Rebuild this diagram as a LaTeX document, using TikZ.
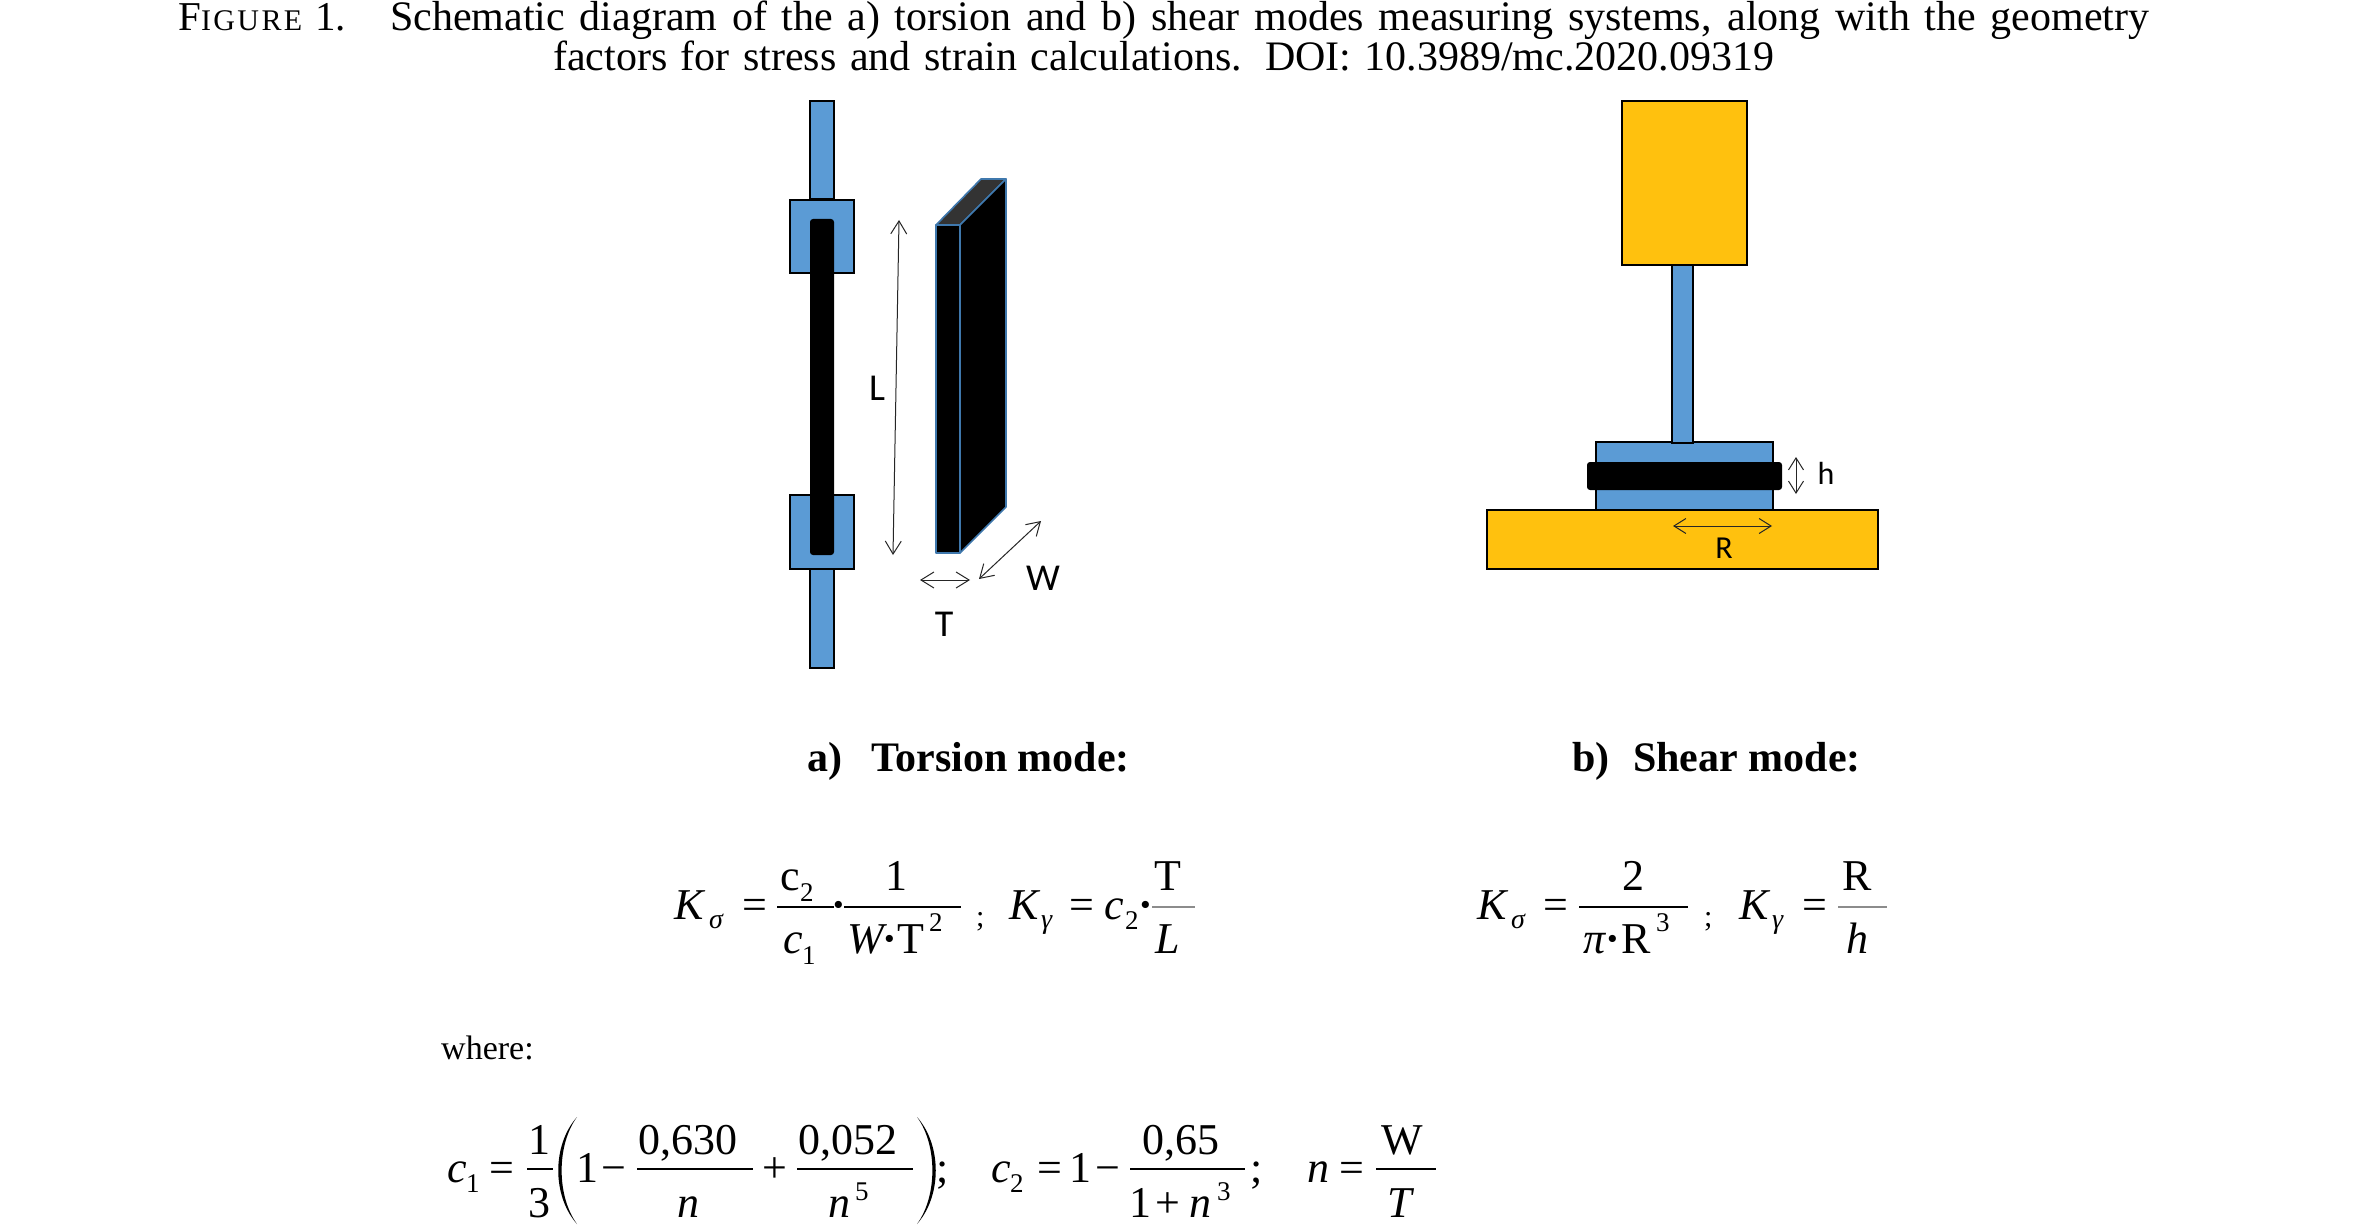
\documentclass[tikz,border=0pt]{standalone}
\usepackage{fontspec}
\usetikzlibrary{arrows.meta}
\setmainfont{Liberation Serif}
\newfontfamily\calib{Carlito}
\definecolor{rodblue}{HTML}{5B9BD5}
\definecolor{amber}{HTML}{FFC10E}
\definecolor{edgeblue}{HTML}{3F78AD}
\definecolor{topgray}{HTML}{333333}
\tikzset{
  rodbox/.style={draw=black,line width=1.6pt,fill=rodblue},
  amberbox/.style={draw=black,line width=1.6pt,fill=amber},
  sample/.style={fill=black,rounded corners=3pt},
  prismface/.style={draw=edgeblue,line width=1.6pt,fill=black,line join=round},
  dimarrow/.style={draw=black!85,line width=1pt,{Straight Barb[length=12pt,width=15pt]}-{Straight Barb[length=12pt,width=15pt]}},
  dimarrowbig/.style={draw=black!85,line width=1pt,{Straight Barb[length=13pt,width=16pt]}-{Straight Barb[length=13pt,width=16pt]}},
  dimlabel/.style={font=\calib\fontsize{32}{36}\selectfont,inner sep=0pt},
  dimlabelbig/.style={font=\calib\fontsize{38}{42}\selectfont,inner sep=0pt},
  formula/.style={anchor=base west,inner sep=0pt},
  bigparen/.style={fill=black}
}
\newcommand\M{\fontsize{44}{50}\selectfont}
\newcommand\Mi{\fontsize{44}{50}\selectfont\itshape}
\newcommand\Sm{\fontsize{27}{30}\selectfont}
\newcommand\Smi{\fontsize{28}{30}\selectfont\itshape}
\newcommand\Dt{\fontsize{44}{50}\selectfont\bfseries ·}
% piece with left edge at absolute x, baseline at absolute y
\newcommand\pl[3]{\hbox to 0pt{\kern\dimexpr#1pt-\ox\relax\raise\dimexpr\oy-#2pt\relax\hbox{#3}\hss}\ignorespaces}
% piece centred on absolute x
\newcommand\pc[3]{\hbox to 0pt{\kern\dimexpr#1pt-\ox\relax\raise\dimexpr\oy-#2pt\relax\hbox to 0pt{\hss#3\hss}\hss}\ignorespaces}
% fraction bar
\newcommand\fbar[4]{\pl{#1}{#3}{\color{#4}\vrule width \dimexpr#2pt-#1pt\relax height 2pt depth 0pt}}
\newcommand\formulabox[5]{\node[formula] (#1) at (#2,#3) {\def\ox{#2pt}\def\oy{#3pt}\hbox to #4pt{\vrule height 40pt depth 40pt width 0pt #5\hss}};}
\begin{document}
\begin{tikzpicture}[x=1pt,y=-1pt]
\useasboundingbox (0,0) rectangle (2358,1225);
\fill[white] (0,0) rectangle (2358,1225);

% caption
\node[formula] (caplabel) at (178,31) {\fontsize{41}{44}\selectfont F{\fontsize{30}{44}\selectfont\addfontfeature{LetterSpace=8}IGURE}\kern 13pt 1.};
\node[formula] (capone) at (390,31) {\fontsize{42}{44}\selectfont\hbox to 1759pt{Schematic diagram of the a) torsion and b) shear modes measuring systems, along with the geometry}};
\node[formula] (captwo) at (553,71) {\fontsize{42}{44}\selectfont\hbox to 1221pt{factors for stress and strain calculations. DOI: 10.3989/mc.2020.09319}};

% torsion rig
\draw[rodbox] (810,101) rectangle (834,199);
\draw[rodbox] (810,569) rectangle (834,668);
\draw[rodbox] (790,200) rectangle (854,273);
\draw[rodbox] (790,495) rectangle (854,569);
\fill[sample] (810,219) rectangle (834,555);

% prism
\draw[prismface,fill=topgray] (936,225) -- (981,179) -- (1006,179) -- (960,225) -- cycle;
\draw[prismface] (960,225) -- (1006,179) -- (1006,507) -- (960,553) -- cycle;
\draw[prismface] (936,225) rectangle (960,553);

% torsion dimensions
\coordinate (Ltop) at (899,220);
\coordinate (Lbot) at (893,555);
\coordinate (Tl) at (920,580);
\coordinate (Tr) at (970,580);
\coordinate (Wa) at (979,579);
\coordinate (Wb) at (1041,521);
\draw[dimarrowbig] (Ltop) -- (Lbot);
\draw[dimarrowbig] (Tl) -- (Tr);
\draw[dimarrowbig] (Wa) -- (Wb);
\node[dimlabelbig] (labL) at (877,388) {L};
\node[dimlabelbig] (labT) at (944,624) {T};
\node[dimlabelbig] (labW) at (1043,578) {W};

% shear rig
\draw[amberbox] (1622,101) rectangle (1747,265);
\draw[amberbox] (1487,510) rectangle (1878,569);
\draw[rodbox] (1596,442) rectangle (1773,510);
\draw[rodbox] (1672,265) rectangle (1693,443);
\fill[sample] (1587,462) rectangle (1782,490);

% shear dimensions
\coordinate (Rl) at (1673,526);
\coordinate (Rr) at (1772,526);
\coordinate (ht) at (1796,457);
\coordinate (hb) at (1796,494);
\draw[dimarrow] (Rl) -- (Rr);
\draw[dimarrow] (ht) -- (hb);
\node[dimlabel] (labR) at (1724,548) {R};
\node[dimlabel] (labh) at (1826,473) {h};

% headings
\node[formula] (heada) at (807,771) {\fontsize{42}{46}\selectfont\bfseries a)};
\node[formula] (headat) at (871,771) {\fontsize{42}{46}\selectfont\bfseries Torsion mode:};
\node[formula] (headb) at (1572,771) {\fontsize{42}{46}\selectfont\bfseries b)};
\node[formula] (headbt) at (1633,771) {\fontsize{42}{46}\selectfont\bfseries Shear mode:};

% torsion formula
\formulabox{ftorsion}{674}{919}{525}{%
  \pl{674}{919}{\Mi K}
  \pl{709}{928}{\Smi σ}
  \pc{755}{919}{\M =}
  \pl{780}{890}{\M c}
  \pl{800}{901}{\Sm 2}
  \fbar{777}{834}{908}{black}
  \pl{783}{953}{\Mi c}
  \pl{802}{964}{\Sm 1}
  \pc{839}{919}{\Dt}
  \fbar{844}{961}{908}{black}
  \pc{896}{890}{\M 1}
  \pl{847}{953}{\Mi W}
  \pc{890}{953}{\Dt}
  \pl{897}{953}{\M T}
  \pl{929}{931}{\Sm 2}
  \pc{980}{926}{\fontsize{30}{34}\selectfont ;}
  \pl{1009}{919}{\Mi K}
  \pl{1041}{928}{\Smi γ}
  \pc{1082}{919}{\M =}
  \pl{1104}{919}{\Mi c}
  \pl{1125}{929}{\Sm 2}
  \pc{1146}{919}{\Dt}
  \fbar{1152}{1195}{908}{black!45}
  \pc{1168}{890}{\M T}
  \pc{1168}{953}{\Mi L}
}

% shear formula
\formulabox{fshear}{1477}{919}{420}{%
  \pl{1477}{919}{\Mi K}
  \pl{1511}{928}{\Smi σ}
  \pc{1556}{919}{\M =}
  \fbar{1579}{1688}{908}{black}
  \pc{1633}{890}{\M 2}
  \pl{1583}{953}{\Mi π}
  \pc{1613}{953}{\Dt}
  \pl{1621}{953}{\M R}
  \pl{1656}{931}{\Sm 3}
  \pc{1708}{926}{\fontsize{30}{34}\selectfont ;}
  \pl{1739}{919}{\Mi K}
  \pl{1772}{928}{\Smi γ}
  \pc{1815}{919}{\M =}
  \fbar{1838}{1887}{908}{black!45}
  \pc{1857}{890}{\M R}
  \pc{1857}{953}{\Mi h}
}

\node[formula] (where) at (441,1059) {\fontsize{34}{38}\selectfont where:};

% geometry factors
\formulabox{fcoef}{447}{1182}{995}{%
  \pl{447}{1182}{\Mi c}
  \pl{466}{1192}{\Sm 1}
  \pc{502}{1182}{\M =}
  \fbar{527}{553}{1170}{black}
  \pc{539}{1154}{\M 1}
  \pc{539}{1217}{\M 3}
  \pc{587}{1182}{\M 1}
  \pc{614}{1182}{\M −}
  \fbar{637}{753}{1170}{black}
  \pc{688}{1154}{\M 0,630}
  \pc{688}{1217}{\Mi n}
  \pc{775}{1182}{\M +}
  \fbar{797}{913}{1170}{black}
  \pc{848}{1154}{\M 0,052}
  \pc{839}{1217}{\Mi n}
  \pl{855}{1200}{\Sm 5}
  \pc{942}{1182}{\M ;}
  \pl{991}{1182}{\Mi c}
  \pl{1010}{1192}{\Sm 2}
  \pc{1050}{1182}{\M =}
  \pc{1080}{1182}{\M 1}
  \pc{1108}{1182}{\M −}
  \fbar{1130}{1245}{1170}{black}
  \pc{1181}{1154}{\M 0,65}
  \pc{1140}{1217}{\M 1}
  \pc{1168}{1217}{\M +}
  \pc{1200}{1217}{\Mi n}
  \pl{1217}{1200}{\Sm 3}
  \pc{1256}{1182}{\M ;}
  \pl{1307}{1182}{\Mi n}
  \pc{1352}{1182}{\M =}
  \fbar{1376}{1436}{1170}{black}
  \pc{1402}{1154}{\M W}
  \pc{1400}{1217}{\Mi T}
}
\fill[bigparen] (577,1117) .. controls (552,1145) and (552,1196) .. (577,1224) .. controls (556.5,1196) and (556.5,1145) .. (577,1117);
\fill[bigparen] (917,1117) .. controls (942,1145) and (942,1196) .. (917,1224) .. controls (937.5,1196) and (937.5,1145) .. (917,1117);
\end{tikzpicture}
\end{document}
